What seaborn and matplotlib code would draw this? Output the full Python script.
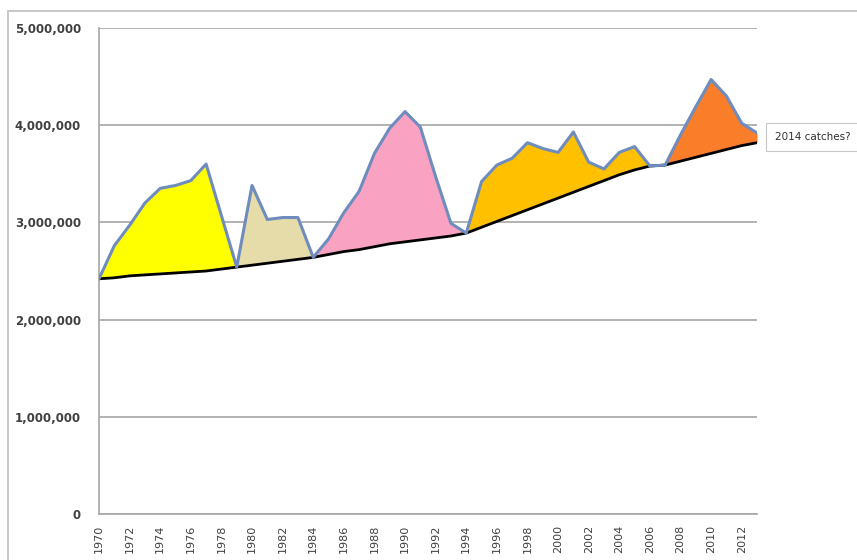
import matplotlib
matplotlib.use("Agg")
import matplotlib.pyplot as plt
import matplotlib.patches as mpatches
import matplotlib.ticker as mticker
import matplotlib.transforms as mtrans
import seaborn as sns
import pandas as pd

# data (tonnes)
years = list(range(1970, 2014))
catch = [2420000, 2760000, 2970000, 3200000, 3350000, 3380000, 3430000, 3600000, 3070000, 2540000,
         3380000, 3030000, 3050000, 3050000, 2640000, 2830000, 3100000, 3320000, 3710000, 3970000,
         4140000, 3980000, 3470000, 2990000, 2890000, 3420000, 3590000, 3660000, 3820000, 3760000,
         3720000, 3930000, 3620000, 3550000, 3720000, 3780000, 3580000, 3590000, 3900000, 4190000,
         4470000, 4300000, 4020000, 3920000]
trend = [2420000, 2430000, 2450000, 2460000, 2470000, 2480000, 2490000, 2500000, 2520000, 2540000,
         2560000, 2580000, 2600000, 2620000, 2640000, 2670000, 2700000, 2720000, 2750000, 2780000,
         2800000, 2820000, 2840000, 2860000, 2890000, 2950000, 3010000, 3070000, 3130000, 3190000,
         3250000, 3310000, 3370000, 3430000, 3490000, 3540000, 3580000, 3590000, 3630000, 3670000,
         3710000, 3750000, 3790000, 3820000]

# shaded segments: (start year, end year, colour)
segment_starts = [1970, 1979, 1984, 1994, 2007]
segment_ends = [1979, 1984, 1994, 2006, 2013]
segment_colors = ['#FFFF00', '#E6DCAA', '#FAA2C2', '#FFC000', '#FA7D2A']

note_text = '2014 catches?'

df = pd.DataFrame({'year': years, 'catch': catch, 'trend': trend})

sns.set_style('white')
fig = plt.figure(figsize=(8.57, 5.6), dpi=100)
ax = fig.add_axes([99 / 857, 46 / 560, 658 / 857, 486 / 560])

for s, e, c in zip(segment_starts, segment_ends, segment_colors):
    part = df[(df['year'] >= s) & (df['year'] <= e)]
    ax.fill_between(part['year'], part['trend'], part['catch'], color=c, lw=0, zorder=2)

sns.lineplot(data=df, x='year', y='trend', color='black', lw=2, ax=ax, zorder=3)
sns.lineplot(data=df, x='year', y='catch', color='#6E8CBE', lw=2.2, ax=ax, zorder=4)

ax.set_xlim(1970, 2013)
ax.set_ylim(0, 5000000)
ax.yaxis.set_major_locator(mticker.MultipleLocator(1000000))
ax.yaxis.set_major_formatter(mticker.FuncFormatter(lambda v, p: f'{int(v):,}'))
ax.grid(axis='y', color='#A6A6A6', lw=1.2, zorder=0)
ax.set_axisbelow(True)

# year ticks every year, vertical labels every second year
ax.set_xticks(years)
ax.set_xticklabels([])
label_off = mtrans.offset_copy(ax.get_xaxis_transform(), fig=fig, y=-8, units='points')
for y in years[::2]:
    ax.text(y, 0, str(y), transform=label_off, rotation=90, rotation_mode='default',
            ha='center', va='top', fontsize=8, color='#404040')

ax.tick_params(axis='x', length=4, width=0.8, color='#A6A6A6')
ax.tick_params(axis='y', length=5, width=0.8, color='#A6A6A6', labelsize=8.5,
               labelcolor='#404040', pad=8)
for lbl in ax.get_yticklabels():
    lbl.set_fontweight('bold')
ax.set_xlabel('')
ax.set_ylabel('')

for side in ['top', 'right']:
    ax.spines[side].set_visible(False)
for side in ['left', 'bottom']:
    ax.spines[side].set_color('#A6A6A6')
    ax.spines[side].set_linewidth(1.2)

# outer chart frame
fig.patches.append(mpatches.Rectangle((8 / 857, -0.1), 1.0, 1 - 11 / 560 + 0.1,
                                      transform=fig.transFigure, fill=False,
                                      edgecolor='#BFBFBF', lw=1.2))

fig.text(775 / 857, 1 - 137 / 560, note_text, fontsize=7.5, color='#303030', va='center',
         bbox=dict(boxstyle='square,pad=0.9', fc='white', ec='#C8C8C8', lw=0.8))

fig.savefig('out.png', dpi=100)
